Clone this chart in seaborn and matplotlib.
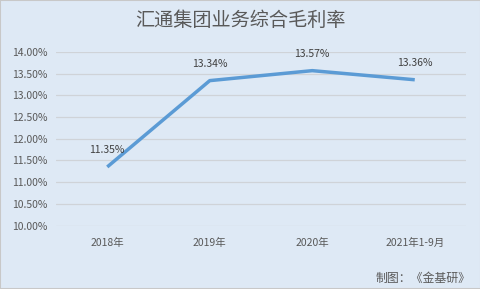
import matplotlib
matplotlib.use("Agg")
import matplotlib.pyplot as plt
import seaborn as sns
import pandas as pd
from matplotlib.patches import Rectangle

categories = ["2018年", "2019年", "2020年", "2021年1-9月"]
margin = [11.35, 13.34, 13.57, 13.36]
yticks = [10.0, 10.5, 11.0, 11.5, 12.0, 12.5, 13.0, 13.5, 14.0]

sns.set_theme(style="white")
plt.rcParams['font.family'] = ['Noto Sans CJK SC', 'DejaVu Sans']

bg = "#dee9f5"
fig = plt.figure(figsize=(4.81, 2.89), dpi=100, facecolor=bg)
ax = fig.add_axes([56/481, 1-225.5/289, (466-56)/481, (225.5-52)/289])
ax.set_facecolor(bg)

df = pd.DataFrame({"cat": categories, "val": margin})
df["x"] = range(len(categories))
sns.lineplot(data=df, x="x", y="val", ax=ax, color="#5b9bd5", linewidth=2.5,
             solid_capstyle="butt")

for x, v in zip(df["x"], margin):
    ax.annotate(f"{v:.2f}%", (x, v), xytext=(0, 12), textcoords="offset points",
                ha="center", va="center", fontsize=7.5, color="#404040")

ax.set_xlim(-0.5, 3.5)
ax.set_ylim(10.0, 14.0)
ax.set_yticks(yticks)
ax.set_yticklabels([f"{t:.2f}%" for t in yticks], fontsize=7.5, color="#595959")
ax.set_xticks(range(len(categories)))
ax.set_xticklabels(categories, fontsize=7.5, color="#595959")
ax.tick_params(axis="both", length=0, pad=6)
ax.tick_params(axis="x", pad=9)
ax.grid(axis="y", color="#cfd3d8", linewidth=0.9)
ax.set_axisbelow(True)
for s in ax.spines.values():
    s.set_visible(False)
ax.set_xlabel("")
ax.set_ylabel("")

fig.text(0.5, 1-20/289, "汇通集团业务综合毛利率", ha="center", va="center",
         fontsize=13.8, color="#595959")
fig.text(471/481, 1-278/289, "制图：《金基研》", ha="right", va="center",
         fontsize=8.6, color="#595959")

fig.patches.append(Rectangle((0, 0), 1, 1, transform=fig.transFigure, fill=False,
                             edgecolor="#c8c8c8", linewidth=1.5))

fig.savefig("out.png", dpi=100, facecolor=bg)
